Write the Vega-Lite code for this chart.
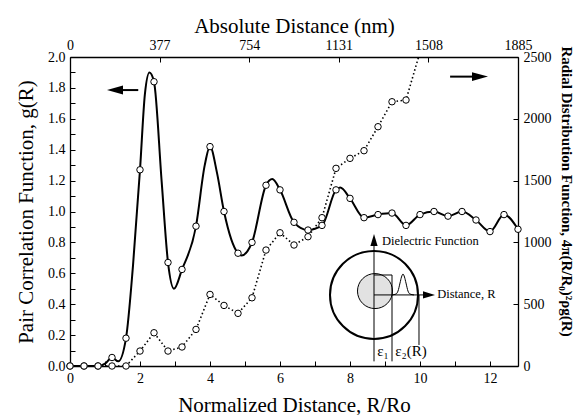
{
  "$schema": "https://vega.github.io/schema/vega-lite/v6.json",
  "width": 448,
  "height": 309,
  "autosize": "none",
  "padding": {"left": 70, "top": 57, "right": 60, "bottom": 49},
  "background": "white",
  "config": {
    "view": {"stroke": null},
    "font": "Liberation Serif",
    "axis": {
      "domainColor": "black", "domainWidth": 1.3, "tickColor": "black", "tickWidth": 1, "tickSize": -5,
      "labelFont": "Liberation Serif", "labelFontSize": 14, "labelColor": "black", "labelFlush": false,
      "titleFont": "Liberation Serif", "titleFontSize": 21, "titleFontWeight": "normal", "titleColor": "black",
      "grid": false, "labelPadding": 10
    }
  },
  "datasets": {
    "gline": [
      {"R": 0, "g": 0}, {"R": 0.4, "g": 0}, {"R": 0.8, "g": 0}, {"R": 1.0, "g": 0.015}, {"R": 1.2, "g": 0.055},
      {"R": 1.38, "g": 0.03}, {"R": 1.6, "g": 0.18}, {"R": 1.8, "g": 0.65}, {"R": 2.0, "g": 1.27}, {"R": 2.14, "g": 1.76},
      {"R": 2.27, "g": 1.9}, {"R": 2.4, "g": 1.84}, {"R": 2.62, "g": 1.19}, {"R": 2.8, "g": 0.67}, {"R": 2.97, "g": 0.5},
      {"R": 3.2, "g": 0.625}, {"R": 3.6, "g": 0.905}, {"R": 3.85, "g": 1.3}, {"R": 4.0, "g": 1.42}, {"R": 4.2, "g": 1.25},
      {"R": 4.4, "g": 1.0}, {"R": 4.8, "g": 0.73}, {"R": 4.9, "g": 0.715}, {"R": 5.2, "g": 0.8}, {"R": 5.6, "g": 1.17},
      {"R": 5.78, "g": 1.21}, {"R": 6.0, "g": 1.14}, {"R": 6.4, "g": 0.93}, {"R": 6.8, "g": 0.88}, {"R": 7.2, "g": 0.91},
      {"R": 7.6, "g": 1.14}, {"R": 7.72, "g": 1.155}, {"R": 8.0, "g": 1.085}, {"R": 8.4, "g": 0.96}, {"R": 8.8, "g": 0.98},
      {"R": 9.2, "g": 0.99}, {"R": 9.6, "g": 0.91}, {"R": 10.0, "g": 0.98}, {"R": 10.4, "g": 1.0}, {"R": 10.8, "g": 0.97},
      {"R": 11.2, "g": 1.0}, {"R": 11.6, "g": 0.945}, {"R": 12.0, "g": 0.87}, {"R": 12.4, "g": 0.98}, {"R": 12.8, "g": 0.885}
    ],
    "gmarks": [
      {"R": 0, "g": 0}, {"R": 0.4, "g": 0}, {"R": 0.8, "g": 0}, {"R": 1.2, "g": 0.055}, {"R": 1.6, "g": 0.18},
      {"R": 2.0, "g": 1.27}, {"R": 2.4, "g": 1.84}, {"R": 2.8, "g": 0.67}, {"R": 3.2, "g": 0.625}, {"R": 3.6, "g": 0.905},
      {"R": 4.0, "g": 1.42}, {"R": 4.4, "g": 1.0}, {"R": 4.8, "g": 0.73}, {"R": 5.2, "g": 0.8}, {"R": 5.6, "g": 1.17},
      {"R": 6.0, "g": 1.14}, {"R": 6.4, "g": 0.93}, {"R": 6.8, "g": 0.88}, {"R": 7.2, "g": 0.91}, {"R": 7.6, "g": 1.14},
      {"R": 8.0, "g": 1.085}, {"R": 8.4, "g": 0.96}, {"R": 8.8, "g": 0.98}, {"R": 9.2, "g": 0.99}, {"R": 9.6, "g": 0.91},
      {"R": 10.0, "g": 0.98}, {"R": 10.4, "g": 1.0}, {"R": 10.8, "g": 0.97}, {"R": 11.2, "g": 1.0}, {"R": 11.6, "g": 0.945},
      {"R": 12.0, "g": 0.87}, {"R": 12.4, "g": 0.98}, {"R": 12.8, "g": 0.885}
    ],
    "rdf": [
      {"R": 0, "v": 0}, {"R": 0.4, "v": 0}, {"R": 0.8, "v": 0}, {"R": 1.2, "v": 0}, {"R": 1.6, "v": 0},
      {"R": 2.0, "v": 121}, {"R": 2.4, "v": 269}, {"R": 2.8, "v": 121}, {"R": 3.2, "v": 154}, {"R": 3.6, "v": 296},
      {"R": 4.0, "v": 579}, {"R": 4.4, "v": 490}, {"R": 4.8, "v": 426}, {"R": 5.2, "v": 552}, {"R": 5.6, "v": 938},
      {"R": 6.0, "v": 1078}, {"R": 6.4, "v": 979}, {"R": 6.8, "v": 1046}, {"R": 7.2, "v": 1200}, {"R": 7.6, "v": 1599},
      {"R": 8.0, "v": 1680}, {"R": 8.4, "v": 1742}, {"R": 8.8, "v": 1936}, {"R": 9.2, "v": 2138}, {"R": 9.6, "v": 2152},
      {"R": 10.0, "v": 2540}
    ],
    "rdfmarks": [
      {"R": 0, "v": 0}, {"R": 0.4, "v": 0}, {"R": 0.8, "v": 0}, {"R": 1.2, "v": 0}, {"R": 1.6, "v": 0},
      {"R": 2.0, "v": 121}, {"R": 2.4, "v": 269}, {"R": 2.8, "v": 121}, {"R": 3.2, "v": 154}, {"R": 3.6, "v": 296},
      {"R": 4.0, "v": 579}, {"R": 4.4, "v": 490}, {"R": 4.8, "v": 426}, {"R": 5.2, "v": 552}, {"R": 5.6, "v": 938},
      {"R": 6.0, "v": 1078}, {"R": 6.4, "v": 979}, {"R": 6.8, "v": 1046}, {"R": 7.2, "v": 1200}, {"R": 7.6, "v": 1599},
      {"R": 8.0, "v": 1680}, {"R": 8.4, "v": 1742}, {"R": 8.8, "v": 1936}, {"R": 9.2, "v": 2138}, {"R": 9.6, "v": 2152}
    ],
    "outer": [{"R": 8.686, "g": 0.46}],
    "inner": [{"R": 8.714, "g": 0.485}],
    "irules": [
      {"R": 8.686, "R2": 8.686, "g": 0.03, "g2": 0.79},
      {"R": 9.2, "R2": 9.2, "g": 0.03, "g2": 0.589},
      {"R": 9.971, "R2": 9.971, "g": 0.136, "g2": 0.46},
      {"R": 8.686, "R2": 10.2, "g": 0.46, "g2": 0.46},
      {"R": 8.686, "R2": 9.2, "g": 0.589, "g2": 0.589}
    ],
    "gauss": [
      {"R": 9.2, "g": 0.46}, {"R": 9.314, "g": 0.466}, {"R": 9.371, "g": 0.485}, {"R": 9.429, "g": 0.537},
      {"R": 9.471, "g": 0.576}, {"R": 9.514, "g": 0.595}, {"R": 9.557, "g": 0.576}, {"R": 9.6, "g": 0.537},
      {"R": 9.657, "g": 0.485}, {"R": 9.714, "g": 0.466}, {"R": 9.829, "g": 0.46}
    ],
    "headUp": [{"R": 8.686, "g": 0.816}],
    "headRightSmall": [{"R": 10.257, "g": 0.46}],
    "ilabels": [
      {"R": 8.914, "g": 0.809, "label": "Dielectric Function"},
      {"R": 10.49, "g": 0.465, "label": "Distance, R"}
    ],
    "eps": [
      {"R": 8.94, "g": 0.1, "label": "ε₁"},
      {"R": 9.74, "g": 0.1, "label": "ε₂(R)"}
    ],
    "arrows": [
      {"R": 1.3, "R2": 1.95, "g": 1.786, "g2": 1.786},
      {"R": 10.86, "R2": 11.7, "g": 1.873, "g2": 1.873}
    ],
    "headLeft": [{"R": 1.286, "g": 1.786}],
    "headRight": [{"R": 11.714, "g": 1.873}]
  },
  "layer": [
    {
      "encoding": {
        "x": {
          "field": "R", "type": "quantitative",
          "scale": {"domain": [0, 12.8], "nice": false, "zero": false},
          "axis": {
            "orient": "bottom", "title": "Normalized Distance, R/Ro",
            "values": [0, 1, 2, 3, 4, 5, 6, 7, 8, 9, 10, 11, 12],
            "labelExpr": "datum.value % 2 == 0 ? datum.label : ''",
            "titlePadding": 9
          }
        },
        "y": {
          "field": "g", "type": "quantitative",
          "scale": {"domain": [0, 2], "nice": false},
          "axis": {
            "orient": "left", "title": "Pair Correlation Function, g(R)",
            "values": [0, 0.1, 0.2, 0.3, 0.4, 0.5, 0.6, 0.7, 0.8, 0.9, 1.0, 1.1, 1.2, 1.3, 1.4, 1.5, 1.6, 1.7, 1.8, 1.9, 2.0],
            "labelExpr": "round(datum.value * 10) % 2 == 0 ? format(datum.value, '.1f') : ''",
            "titlePadding": 11
          }
        }
      },
      "layer": [
        {"data": {"name": "outer"}, "mark": {"type": "point", "shape": "circle", "size": 7744, "filled": false, "stroke": "black", "strokeWidth": 2, "opacity": 1}},
        {"data": {"name": "inner"}, "mark": {"type": "point", "shape": "circle", "size": 1225, "filled": true, "fill": "#e2e2e2", "stroke": "black", "strokeWidth": 1, "opacity": 1}},
        {"data": {"name": "irules"}, "mark": {"type": "rule", "color": "black", "strokeWidth": 1}, "encoding": {"x2": {"field": "R2"}, "y2": {"field": "g2"}}},
        {"data": {"name": "gauss"}, "mark": {"type": "line", "color": "black", "strokeWidth": 1, "interpolate": "monotone"}, "encoding": {}},
        {"data": {"name": "headUp"}, "mark": {"type": "point", "shape": "M 0 -1 L 0.6 1 L -0.6 1 Z", "size": 144, "filled": true, "color": "black", "opacity": 1}},
        {"data": {"name": "headRightSmall"}, "mark": {"type": "point", "shape": "M 1 0 L -1 -0.6 L -1 0.6 Z", "size": 144, "filled": true, "color": "black", "opacity": 1}},
        {"data": {"name": "ilabels"}, "mark": {"type": "text", "align": "left", "baseline": "middle", "font": "Liberation Serif", "fontSize": 12.5, "color": "black"}, "encoding": {"text": {"field": "label"}}},
        {"data": {"name": "eps"}, "mark": {"type": "text", "align": "center", "baseline": "middle", "font": "Liberation Serif", "fontSize": 15, "color": "black"}, "encoding": {"text": {"field": "label"}}},
        {"data": {"name": "arrows"}, "mark": {"type": "rule", "color": "black", "strokeWidth": 2}, "encoding": {"x2": {"field": "R2"}, "y2": {"field": "g2"}}},
        {"data": {"name": "headLeft"}, "mark": {"type": "point", "shape": "M -1 0 L 1 -0.56 L 1 0.56 Z", "size": 256, "filled": true, "color": "black", "opacity": 1}},
        {"data": {"name": "headRight"}, "mark": {"type": "point", "shape": "M 1 0 L -1 -0.56 L -1 0.56 Z", "size": 256, "filled": true, "color": "black", "opacity": 1}},
        {"data": {"name": "gline"}, "mark": {"type": "line", "color": "black", "strokeWidth": 2, "interpolate": "monotone"}, "encoding": {}},
        {"data": {"name": "gmarks"}, "mark": {"type": "point", "shape": "circle", "size": 42, "filled": true, "fill": "white", "stroke": "black", "strokeWidth": 1, "opacity": 1}}
      ]
    },
    {
      "encoding": {
        "x": {
          "field": "R", "type": "quantitative",
          "scale": {"domain": [0, 12.8], "nice": false, "zero": false},
          "axis": {
            "orient": "top", "title": "Absolute Distance (nm)",
            "values": [0, 2.56, 5.12, 7.68, 10.24, 12.8],
            "labelExpr": "format(round(datum.value * 1885 / 12.8), 'd')",
            "titlePadding": 2
          }
        },
        "y": {
          "field": "v", "type": "quantitative",
          "scale": {"domain": [0, 2500], "nice": false},
          "axis": {
            "orient": "right", "title": "Radial Distribution Function, 4π(R/R₀)²ρg(R)",
            "values": [0, 500, 1000, 1500, 2000, 2500], "format": "d",
            "titleFontWeight": "bold", "titleFontSize": 15,
            "titleX": 48, "titleY": 134, "titleAngle": 90, "titleAlign": "center", "titleBaseline": "middle"
          }
        }
      },
      "layer": [
        {"data": {"name": "rdf"}, "mark": {"type": "line", "color": "black", "strokeWidth": 1.6, "strokeDash": [1.5, 2.5], "clip": true}, "encoding": {}},
        {"data": {"name": "rdfmarks"}, "mark": {"type": "point", "shape": "circle", "size": 42, "filled": true, "fill": "white", "stroke": "black", "strokeWidth": 1, "opacity": 1}}
      ]
    }
  ],
  "resolve": {"scale": {"y": "independent"}, "axis": {"x": "independent", "y": "independent"}}
}
